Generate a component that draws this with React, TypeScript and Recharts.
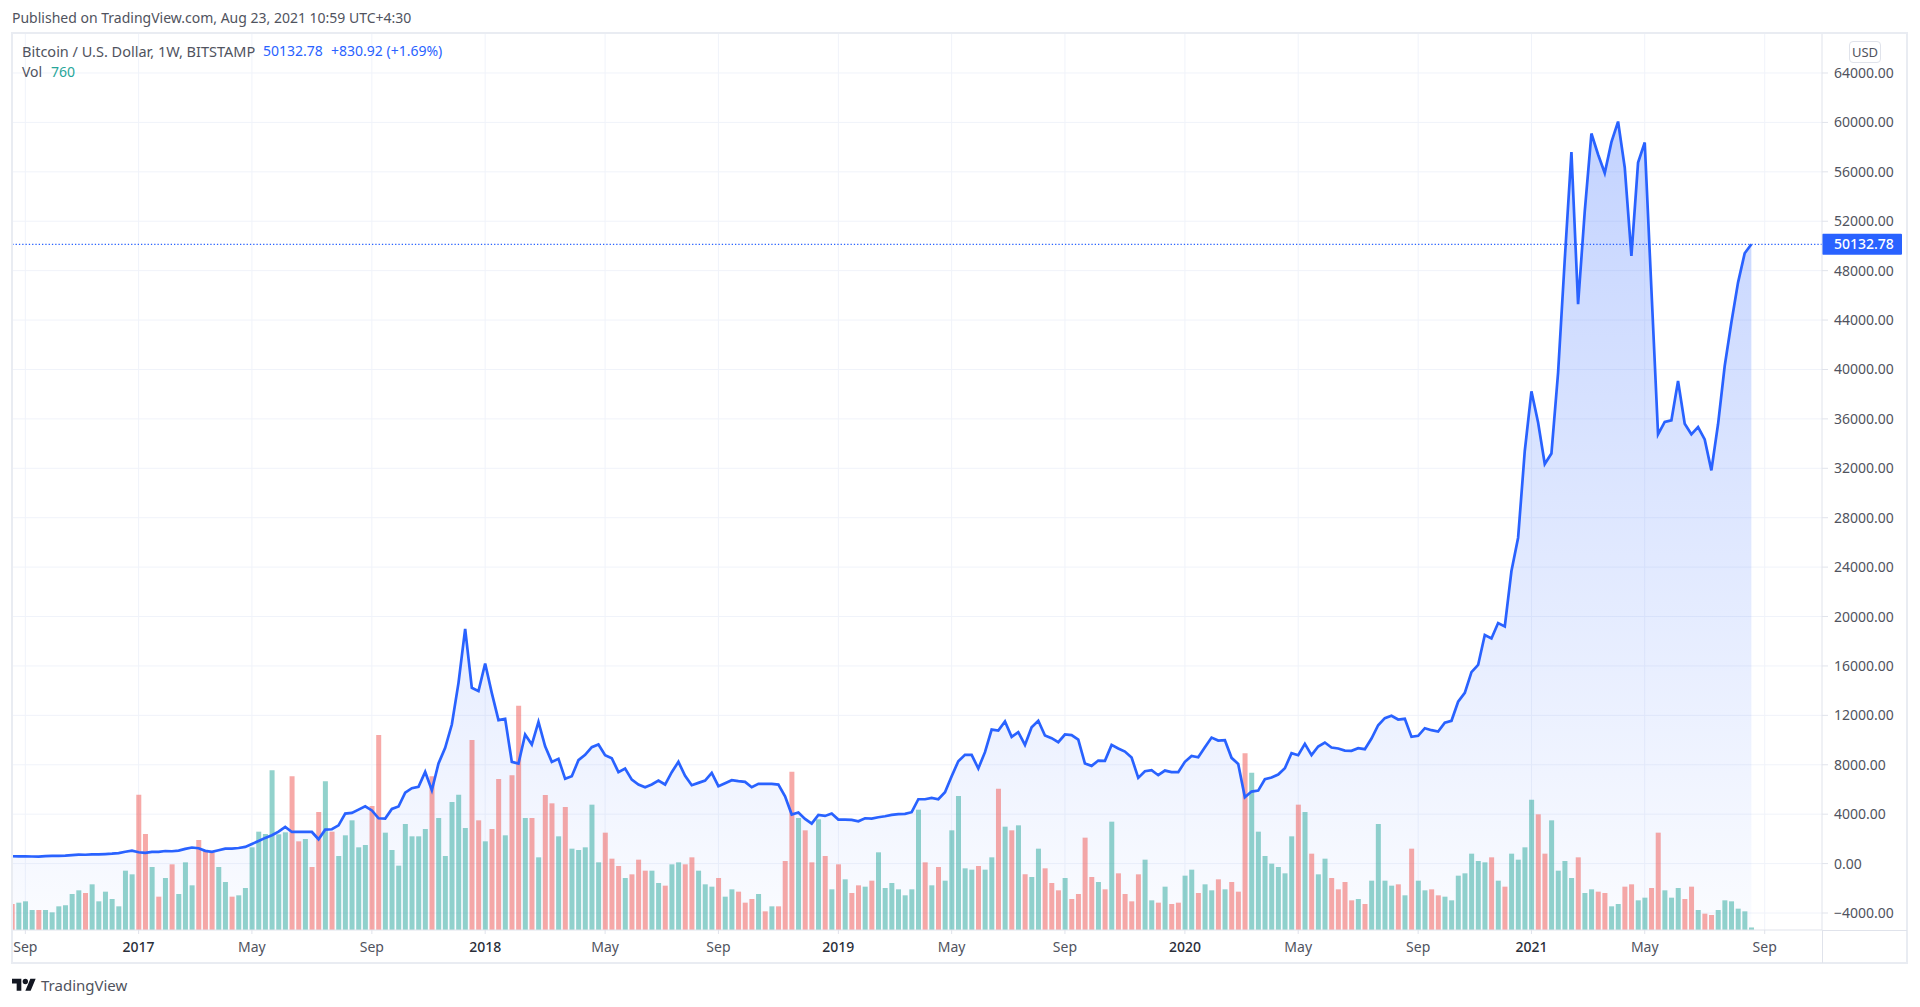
import { Area, Bar, CartesianGrid, Cell, ComposedChart, Line, ReferenceLine, XAxis, YAxis } from 'recharts';

const FONT = '"Noto Sans", sans-serif';

// weekly closes, BTC/USD
const prices = [
  594, 590, 580, 575, 570, 610, 620, 625, 640, 690,
  720, 715, 740, 745, 770, 800, 850, 960, 1050, 920,
  870, 945, 945, 1020, 1000, 1050, 1190, 1300, 1240, 1030,
  950, 1080, 1210, 1215, 1260, 1350, 1590, 1830, 2080, 2300,
  2590, 2970, 2560, 2570, 2560, 2560, 1970, 2750, 2780, 3100,
  4050, 4100, 4370, 4640, 4300, 3670, 3650, 4430, 4620, 5750,
  6100, 6220, 7420, 5940, 8100, 9370, 11260, 14630, 19000, 14230,
  13960, 16200, 13800, 11610, 11720, 8235, 8100, 10450, 9640, 11475,
  9500, 8235, 8480, 6860, 7070, 8370, 8800, 9420, 9640, 8775,
  8530, 7400, 7700, 6800, 6400, 6180, 6400, 6720, 6400, 7400,
  8235, 7100, 6345, 6534, 6720, 7344, 6264, 6507, 6750, 6670,
  6615, 6180, 6450, 6450, 6450, 6400, 5450, 3970, 4130, 3620,
  3240, 3940, 3860, 4050, 3560, 3560, 3540, 3430, 3670, 3645,
  3750, 3830, 3940, 4000, 4020, 4160, 5210, 5210, 5320, 5210,
  5780, 7070, 8290, 8800, 8800, 7700, 9020, 10850, 10770, 11500,
  10260, 10640, 9610, 11040, 11560, 10370, 10150, 9830, 10450, 10400,
  10040, 8100, 7910, 8340, 8320, 9610, 9315, 9070, 8590, 6940,
  7480, 7560, 7155, 7530, 7400, 7400, 8235, 8720, 8610, 9420,
  10200, 9960, 9990, 8560, 8070, 5370, 5830, 5910, 6830, 6970,
  7210, 7720, 8940, 8775, 9690, 8775, 9480, 9800, 9400, 9315,
  9150, 9130, 9340, 9260, 10125, 11200, 11770, 11960, 11660, 11720,
  10260, 10340, 10960, 10800, 10690, 11400, 11560, 13100, 13820, 15500,
  16080, 18500, 18225, 19470, 19200, 23680, 26380, 33400, 38230, 35700,
  32350, 33200, 39750, 48900, 57600, 45280, 52800, 59100, 57400, 55900,
  58400, 60070, 56350, 49200, 56750, 58370, 46500, 34750, 35750, 35880,
  39070, 35600, 34750, 35340, 34340, 31830, 35560, 40280, 43800, 47030,
  49410, 50132.78,
];

// weekly volume, hundreds of BTC
const volumes = [
  78, 82, 86, 60, 60, 60, 53, 71, 74, 108,
  119, 111, 137, 86, 115, 93, 71, 178, 167, 406,
  288, 189, 100, 156, 197, 108, 203, 134, 270, 240,
  233, 189, 144, 100, 104, 126, 248, 295, 288, 479,
  287, 293, 461, 266, 273, 189, 354, 446, 295, 222,
  284, 329, 248, 255, 372, 585, 292, 240, 193, 318,
  281, 281, 303, 461, 336, 222, 384, 406, 306, 570,
  329, 266, 303, 453, 284, 464, 673, 336, 336, 218,
  405, 380, 281, 369, 244, 240, 248, 376, 203, 292,
  214, 192, 156, 167, 211, 178, 178, 141, 133, 197,
  203, 197, 218, 178, 137, 130, 156, 100, 122, 115,
  82, 93, 108, 56, 71, 71, 207, 475, 336, 299,
  203, 332, 222, 122, 197, 152, 111, 134, 130, 148,
  233, 126, 141, 122, 104, 122, 361, 203, 134, 189,
  148, 299, 402, 185, 181, 192, 181, 218, 424, 310,
  299, 314, 167, 159, 244, 185, 141, 119, 156, 93,
  108, 277, 159, 144, 122, 325, 170, 108, 86, 167,
  211, 89, 82, 130, 78, 82, 163, 181, 111, 137,
  119, 152, 122, 144, 115, 530, 472, 295, 222, 199,
  189, 170, 281, 376, 354, 229, 167, 214, 156, 122,
  144, 89, 93, 78, 148, 318, 148, 133, 137, 104,
  244, 148, 119, 122, 104, 100, 89, 163, 170, 229,
  207, 203, 218, 148, 130, 229, 211, 248, 391, 347,
  229, 329, 178, 207, 156, 218, 111, 122, 115, 111,
  71, 78, 130, 137, 89, 97, 126, 292, 119, 97,
  126, 93, 130, 60, 49, 45, 60, 89, 86, 64,
  56, 7.6,
];

// weeks that closed lower than they opened
const downWeeks = [
  0, 4, 11, 19, 20, 22, 24, 28, 29, 30, 33, 42, 43, 45, 46, 48, 54, 55, 63, 69,
  70, 72, 73, 75, 76, 78, 80, 81, 83, 89, 90, 91, 93, 94, 95, 98, 101, 102, 106, 109,
  110, 111, 113, 115, 116, 117, 119, 120, 122, 124, 126, 127, 129, 137, 139, 145, 148, 150, 152, 155,
  156, 157, 159, 160, 161, 162, 164, 166, 167, 168, 169, 172, 174, 175, 178, 181, 183, 184, 185, 193,
  195, 198, 199, 200, 201, 203, 208, 210, 213, 214, 222, 224, 229, 230, 235, 238, 239, 242, 243, 246,
  247, 251, 252, 254, 255,
];

const priceTicks = [
  -4000, 0, 4000, 8000, 12000, 16000, 20000, 24000, 28000, 32000, 36000,
  40000, 44000, 48000, 52000, 56000, 60000, 64000,
];
const weekTicks = [2, 19, 36, 54, 71, 89, 106, 124, 141, 158, 176, 193, 211, 228, 245, 263];
const weekLabels = [
  'Sep', '2017', 'May', 'Sep', '2018', 'May', 'Sep', '2019',
  'May', 'Sep', '2020', 'May', 'Sep', '2021', 'May', 'Sep',
];

const lastPrice = prices[prices.length - 1];
const rows = prices.map((price, week) => ({ week, price, volume: volumes[week] }));

function WeekTick({ x, y, payload }: any) {
  const label = weekLabels[weekTicks.indexOf(payload.value)];
  const isYear = label.length === 4;
  return (
    <text
      x={x}
      y={y + 16}
      textAnchor="middle"
      fontFamily={FONT}
      fontSize={14}
      fontWeight={isYear ? 500 : 400}
      fill={isYear ? '#2a2e39' : '#50535e'}
    >
      {label}
    </text>
  );
}

function PriceBadge({ viewBox }: any) {
  const right = viewBox.x + viewBox.width;
  return (
    <g>
      <rect x={right} y={viewBox.y - 10.5} width={80} height={21} rx={1} fill="#2962ff" />
      <text x={right + 12} y={viewBox.y + 5} fontFamily={FONT} fontSize={14} fontWeight={500} fill="#ffffff">
        {lastPrice.toFixed(2)}
      </text>
    </g>
  );
}

const note = { position: 'absolute', fontFamily: FONT, fontSize: 14, lineHeight: '18px', color: '#50535e', whiteSpace: 'nowrap' } as const;
const rule = { position: 'absolute', background: '#e9ecf2' } as const;

export default function App() {
  return (
    <div style={{ position: 'absolute', left: 0, top: 0, width: 1920, height: 1007, background: '#fff', overflow: 'hidden' }}>
      <ComposedChart width={1920} height={1007} data={rows} margin={{ top: 33, right: 0, bottom: 0, left: 12 }}>
        <defs>
          <linearGradient id="priceFill" x1="0" y1="0" x2="0" y2="1">
            <stop offset="0%" stopColor="#2962ff" stopOpacity={0.28} />
            <stop offset="100%" stopColor="#2962ff" stopOpacity={0.02} />
          </linearGradient>
        </defs>
        <CartesianGrid xAxisId="week" yAxisId="price" stroke="#f0f3fa" horizontalValues={priceTicks} verticalValues={weekTicks} />
        <XAxis
          xAxisId="week"
          dataKey="week"
          type="number"
          domain={[0, 271.6]}
          allowDataOverflow
          ticks={weekTicks}
          interval={0}
          height={77}
          stroke="#e0e3eb"
          tickSize={4}
          tick={<WeekTick />}
        />
        <YAxis
          yAxisId="price"
          orientation="right"
          type="number"
          domain={[-5376, 67238]}
          allowDataOverflow
          ticks={priceTicks}
          interval={0}
          width={98}
          stroke="#e0e3eb"
          tickSize={6}
          tickMargin={6}
          tick={{ fill: '#50535e', fontSize: 14, fontFamily: FONT }}
          tickFormatter={(v: number) => v.toFixed(2).replace('-', '\u2212')}
        />
        <YAxis yAxisId="volume" hide type="number" domain={[0, 2691]} allowDataOverflow />
        <Area
          xAxisId="week"
          yAxisId="price"
          dataKey="price"
          baseValue={-5376}
          type="linear"
          stroke="none"
          fill="url(#priceFill)"
          fillOpacity={1}
          isAnimationActive={false}
        />
        <Bar xAxisId="week" yAxisId="volume" dataKey="volume" barSize={5} isAnimationActive={false}>
          {rows.map((row) => (
            <Cell key={row.week} fill={downWeeks.includes(row.week) ? 'rgba(239,83,80,0.5)' : 'rgba(38,166,154,0.5)'} />
          ))}
        </Bar>
        <Line
          xAxisId="week"
          yAxisId="price"
          dataKey="price"
          type="linear"
          stroke="#2962ff"
          strokeWidth={2.7}
          dot={false}
          isAnimationActive={false}
        />
        <ReferenceLine
          xAxisId="week"
          yAxisId="price"
          y={lastPrice}
          stroke="#2962ff"
          strokeWidth={1.3}
          strokeDasharray="1.3 2"
          label={<PriceBadge />}
        />
      </ComposedChart>

      {/* chart frame */}
      <div style={{ ...rule, left: 12, top: 32, width: 1895, height: 2 }} />
      <div style={{ ...rule, left: 12, top: 962, width: 1895, height: 2 }} />
      <div style={{ ...rule, left: 11, top: 32, width: 2, height: 932 }} />
      <div style={{ ...rule, left: 1906, top: 32, width: 2, height: 932 }} />
      <div style={{ ...rule, left: 1822, top: 930, width: 85, height: 1, background: '#e0e3eb' }} />
      <div style={{ ...rule, left: 1822, top: 930, width: 1, height: 33, background: '#e0e3eb' }} />

      <div style={{ ...note, left: 12, top: 9 }}>Published on TradingView.com, Aug 23, 2021 10:59 UTC+4:30</div>
      <div style={{ ...note, left: 22, top: 42, fontSize: 14.5 }}>Bitcoin / U.S. Dollar, 1W, BITSTAMP</div>
      <div style={{ ...note, left: 263, top: 42, color: '#2962ff' }}>50132.78</div>
      <div style={{ ...note, left: 331, top: 42, color: '#2962ff' }}>+830.92 (+1.69%)</div>
      <div style={{ ...note, left: 22, top: 63 }}>Vol</div>
      <div style={{ ...note, left: 51, top: 63, color: '#26a69a' }}>760</div>
      <div
        style={{
          ...note,
          left: 1849,
          top: 41,
          width: 30,
          height: 20,
          lineHeight: '20px',
          textAlign: 'center',
          fontSize: 13,
          border: '1px solid #e0e3eb',
          borderRadius: 4,
        }}
      >
        USD
      </div>

      <svg style={{ position: 'absolute', left: 12, top: 976 }} width={24} height={19} viewBox="0 0 36 28">
        <path d="M14 22H7V11H0V4h14v18zM28 22h-8l7.5-18h8L28 22z" fill="#131722" />
        <circle cx={20} cy={8} r={4} fill="#131722" />
      </svg>
      <div style={{ ...note, left: 41, top: 975, fontSize: 15, lineHeight: '20px' }}>TradingView</div>
    </div>
  );
}
